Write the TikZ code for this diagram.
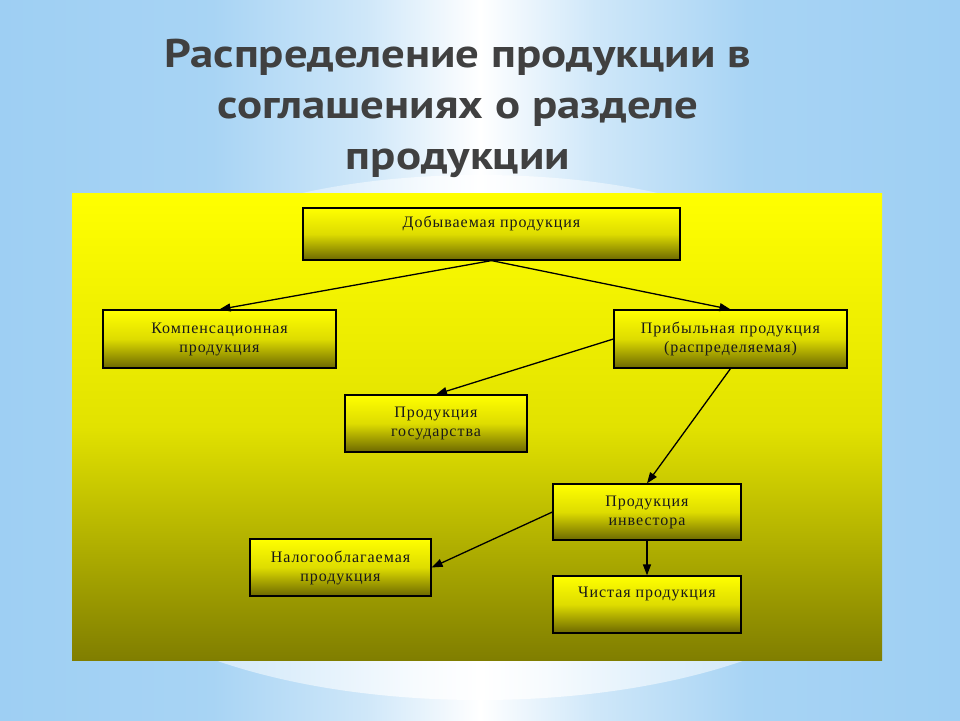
\documentclass[tikz,border=0pt]{standalone}
\usepackage{fontspec}
\setmainfont{Liberation Serif}
\newfontfamily\titlefont[FakeStretch=1.17]{PT Sans}
\newfontfamily\boxfont[LetterSpace=6]{Liberation Serif}
\usetikzlibrary{arrows.meta,positioning}

\definecolor{skyblue}{RGB}{158,207,243}
\definecolor{titlegrey}{RGB}{64,64,64}
\definecolor{panelTop}{RGB}{255,255,0}
\definecolor{panelMid}{RGB}{226,226,0}
\definecolor{panelBot}{RGB}{128,126,0}
\definecolor{boxTop}{RGB}{255,255,0}
\definecolor{boxMid}{RGB}{222,220,0}
\definecolor{boxBot}{RGB}{108,104,0}

\pgfdeclarehorizontalshading{skyglow}{100bp}{color(0bp)=(skyblue); color(25bp)=(skyblue);
  color(36bp)=(skyblue!90!white); color(44bp)=(skyblue!50!white); color(50bp)=(white);
  color(56bp)=(skyblue!50!white); color(64bp)=(skyblue!90!white); color(75bp)=(skyblue); color(100bp)=(skyblue)}
\pgfdeclarehorizontalshading{arcglow}{100bp}{color(0bp)=(skyblue!60!white); color(25bp)=(skyblue!60!white);
  color(38bp)=(skyblue!35!white); color(46bp)=(skyblue!8!white); color(50bp)=(white);
  color(54bp)=(skyblue!8!white); color(62bp)=(skyblue!35!white); color(75bp)=(skyblue!60!white); color(100bp)=(skyblue!60!white)}

\begin{document}
\begin{tikzpicture}[
  x=1pt, y=-1pt,
  prodbox/.style={draw=black, line width=1.2pt, top color=boxTop, bottom color=boxBot,
                  middle color=boxMid, align=center, inner sep=2pt,
                  font=\boxfont\fontsize{16}{19}\selectfont, text=black!90},
  lifted/.style={text depth=24pt},
  arr/.style={-{Triangle[length=11pt,width=8pt]}, line width=1.3pt, draw=black}
]

% ---------------- background ----------------
\useasboundingbox (0,0) rectangle (960,720);
\path[shading=skyglow] (0,0) rectangle (960,720);
\begin{scope}
  \clip (0,0) rectangle (960,720);
  \path[shading=arcglow] (480,275) ellipse [x radius=310, y radius=100];
  \path[shading=arcglow] (480,541) ellipse [x radius=400, y radius=159];
\end{scope}

\node[font=\titlefont\bfseries\fontsize{40}{51}\selectfont, text=titlegrey, align=center]
  (title) at (458,108) {Распределение продукции в\\соглашениях о разделе\\продукции};

% ---------------- panel ----------------
\path[top color=panelTop, bottom color=panelBot, middle color=panelMid]
  (72,193) rectangle (882,660);

% ---------------- boxes ----------------
\node[prodbox, lifted, minimum width=377, minimum height=52] (mined) at (491.5,234)
  {Добываемая продукция};
\node[prodbox, minimum width=233, minimum height=58] (comp) at (219.5,339)
  {Компенсационная\\продукция};
\node[prodbox, minimum width=233, minimum height=58] (profit) at (730.5,339)
  {Прибыльная продукция\\(распределяемая)};
\node[prodbox, minimum width=182, minimum height=57] (state) at (436,423.5)
  {Продукция\\государства};
\node[prodbox, minimum width=188, minimum height=56] (inv) at (647,512)
  {Продукция\\инвестора};
\node[prodbox, minimum width=181, minimum height=57] (taxed) at (340.5,567.5)
  {Налогооблагаемая\\продукция};
\node[prodbox, lifted, minimum width=188, minimum height=57] (net) at (647,604.5)
  {Чистая продукция};

% ---------------- arrows ----------------
\draw[arr] (mined.south) -- (comp.north);
\draw[arr] (mined.south) -- (profit.north);
\draw[arr] (profit.west) -- (state.north);
\draw[arr] (profit.south) -- (inv.north);
\draw[arr] (inv.west) -- (taxed.east);
\draw[arr] (inv.south) -- (net.north);

\end{tikzpicture}
\end{document}
